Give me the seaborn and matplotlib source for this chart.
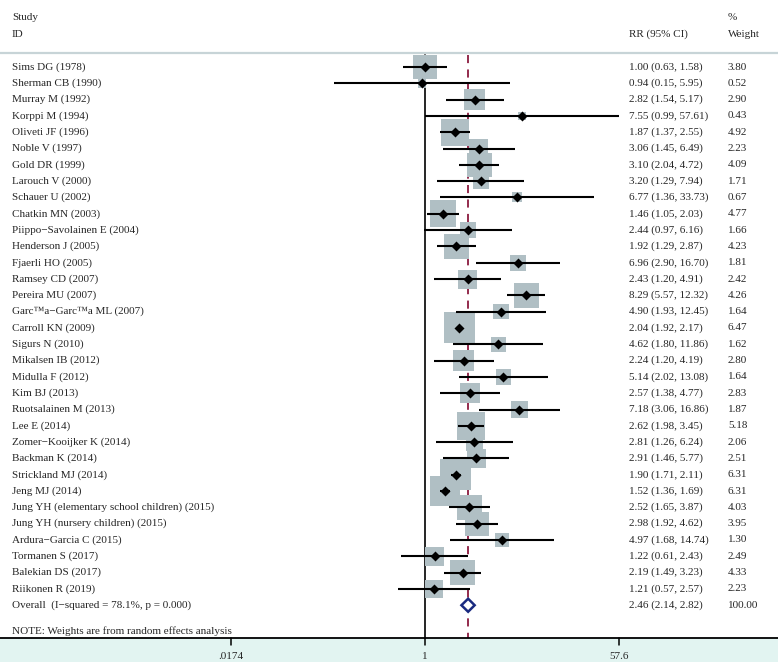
import numpy as np
import pandas as pd
import matplotlib
matplotlib.use('Agg')
import matplotlib.pyplot as plt
import seaborn as sns
from matplotlib.patches import Polygon, Rectangle

# Data
studies = ['Sims DG (1978)', 'Sherman CB (1990)', 'Murray M (1992)', 'Korppi M (1994)',
           'Oliveti JF (1996)', 'Noble V (1997)', 'Gold DR (1999)', 'Larouch V (2000)',
           'Schauer U (2002)', 'Chatkin MN (2003)', 'Piippo\u2212Savolainen E (2004)',
           'Henderson J (2005)', 'Fjaerli HO (2005)', 'Ramsey CD (2007)', 'Pereira MU (2007)',
           'Garc\u2122a\u2212Garc\u2122a ML (2007)', 'Carroll KN (2009)', 'Sigurs N (2010)',
           'Mikalsen IB (2012)', 'Midulla F (2012)', 'Kim BJ (2013)', 'Ruotsalainen M (2013)',
           'Lee E (2014)', 'Zomer\u2212Kooijker K (2014)', 'Backman K (2014)',
           'Strickland MJ (2014)', 'Jeng MJ (2014)',
           'Jung YH (elementary school children) (2015)', 'Jung YH (nursery children) (2015)',
           'Ardura\u2212Garcia C (2015)', 'Tormanen S (2017)', 'Balekian DS (2017)',
           'Riikonen R (2019)']
rr = [1.00, 0.94, 2.82, 7.55, 1.87, 3.06, 3.10, 3.20, 6.77, 1.46, 2.44, 1.92, 6.96, 2.43,
      8.29, 4.90, 2.04, 4.62, 2.24, 5.14, 2.57, 7.18, 2.62, 2.81, 2.91, 1.90, 1.52, 2.52,
      2.98, 4.97, 1.22, 2.19, 1.21]
lo = [0.63, 0.15, 1.54, 0.99, 1.37, 1.45, 2.04, 1.29, 1.36, 1.05, 0.97, 1.29, 2.90, 1.20,
      5.57, 1.93, 1.92, 1.80, 1.20, 2.02, 1.38, 3.06, 1.98, 1.26, 1.46, 1.71, 1.36, 1.65,
      1.92, 1.68, 0.61, 1.49, 0.57]
hi = [1.58, 5.95, 5.17, 57.61, 2.55, 6.49, 4.72, 7.94, 33.73, 2.03, 6.16, 2.87, 16.70, 4.91,
      12.32, 12.45, 2.17, 11.86, 4.19, 13.08, 4.77, 16.86, 3.45, 6.24, 5.77, 2.11, 1.69, 3.87,
      4.62, 14.74, 2.43, 3.23, 2.57]
weight = [3.80, 0.52, 2.90, 0.43, 4.92, 2.23, 4.09, 1.71, 0.67, 4.77, 1.66, 4.23, 1.81, 2.42,
          4.26, 1.64, 6.47, 1.62, 2.80, 1.64, 2.83, 1.87, 5.18, 2.06, 2.51, 6.31, 6.31, 4.03,
          3.95, 1.30, 2.49, 4.33, 2.23]
overall = (2.46, 2.14, 2.82)
overall_label = 'Overall  (I\u2212squared = 78.1%, p = 0.000)'
tick_vals = [1 / 57.6, 1, 57.6]
tick_labels = ['.0174', '1', '57.6']

df = pd.DataFrame({'study': studies, 'rr': rr, 'lo': lo, 'hi': hi, 'w': weight})
df['row'] = np.arange(len(df))

sns.set_style('white')
plt.rcParams['font.family'] = ['Liberation Serif', 'DejaVu Serif']
fs = 8.0

W, H = 778, 662
fig = plt.figure(figsize=(W / 100, H / 100), dpi=100)
ax = fig.add_axes([0, 0, 1, 1])

# pixel geometry -> data coordinates
x0px, scale = 425.0, 47.9          # pixel of RR=1, pixels per ln unit
row0, rowh = 67.0, 16.31           # pixel of first row, row spacing
ax.set_xscale('log')
ax.set_xlim(np.exp(-x0px / scale), np.exp((W - x0px) / scale))
ax.set_ylim((H - row0) / rowh, -row0 / rowh)
ax.axis('off')


def py(p):
    return (p - row0) / rowh


tx = ax.get_yaxis_transform()  # x in axes fraction, y in data

# bottom band and axis
ax.add_patch(Rectangle((0, py(638)), 1, py(H) - py(638), transform=tx,
                       facecolor='#e2f4f1', edgecolor='none', zorder=0))
ax.plot([0, 1], [py(638), py(638)], transform=tx, color='black', lw=1.3, zorder=3)
for v, lab in zip(tick_vals, tick_labels):
    ax.plot([v, v], [py(638), py(645)], color='black', lw=1.1, zorder=3)
    ax.text(v, py(657), lab, ha='center', va='center', fontsize=fs)

# header
ax.plot([0, 1], [py(53), py(53)], transform=tx, color='#c7d4d7', lw=1.6, zorder=1)
ax.text(12 / W, py(17), 'Study', transform=tx, va='center', fontsize=fs)
ax.text(12 / W, py(34), 'ID', transform=tx, va='center', fontsize=fs)
ax.text(629 / W, py(34), 'RR (95% CI)', transform=tx, va='center', fontsize=fs)
ax.text(728 / W, py(17), '%', transform=tx, va='center', fontsize=fs)
ax.text(728 / W, py(34), 'Weight', transform=tx, va='center', fontsize=fs)

# null line and overall dashed line
ax.plot([1, 1], [py(55), py(638)], color='black', lw=1.2, zorder=2)
ax.plot([overall[0], overall[0]], [py(55), py(638)], color='#8b1a3f', lw=1.3,
        dashes=(4.5, 3.5), zorder=2)

# weight squares (area proportional to weight)
side_k = 12.2 * 0.72
wmax = max(weight)
sns.scatterplot(data=df, x='rr', y='row', size='w', sizes=(0, (side_k ** 2) * wmax),
                size_norm=(0, wmax), marker='s', color='#b0bfc4', edgecolor='none',
                linewidth=0, legend=False, ax=ax, zorder=3)

# confidence intervals and point estimates
ax.hlines(df['row'], df['lo'], df['hi'], color='black', lw=1.5, zorder=4)
sns.scatterplot(data=df, x='rr', y='row', marker='D', s=26, color='black',
                edgecolor='black', linewidth=0, legend=False, ax=ax, zorder=5)

# overall diamond
orow = len(df)
dh = 0.40
ax.add_patch(Polygon([(overall[1], orow), (overall[0], orow - dh), (overall[2], orow),
                      (overall[0], orow + dh)], closed=True, facecolor='white',
                     edgecolor='#1a2a80', lw=1.8, zorder=6))

# text columns
for i, r in df.iterrows():
    ax.text(12 / W, r['row'], r['study'], transform=tx, va='center', fontsize=fs)
    ax.text(629 / W, r['row'], f"{r['rr']:.2f} ({r['lo']:.2f}, {r['hi']:.2f})",
            transform=tx, va='center', fontsize=fs)
    ax.text(728 / W, r['row'], f"{r['w']:.2f}", transform=tx, va='center', fontsize=fs)

ax.text(12 / W, orow, overall_label, transform=tx, va='center', fontsize=fs)
ax.text(629 / W, orow, f'{overall[0]:.2f} ({overall[1]:.2f}, {overall[2]:.2f})',
        transform=tx, va='center', fontsize=fs)
ax.text(728 / W, orow, '100.00', transform=tx, va='center', fontsize=fs)
ax.text(12 / W, py(631), 'NOTE: Weights are from random effects analysis', transform=tx,
        va='center', fontsize=fs)

fig.savefig('out.png', dpi=100)
